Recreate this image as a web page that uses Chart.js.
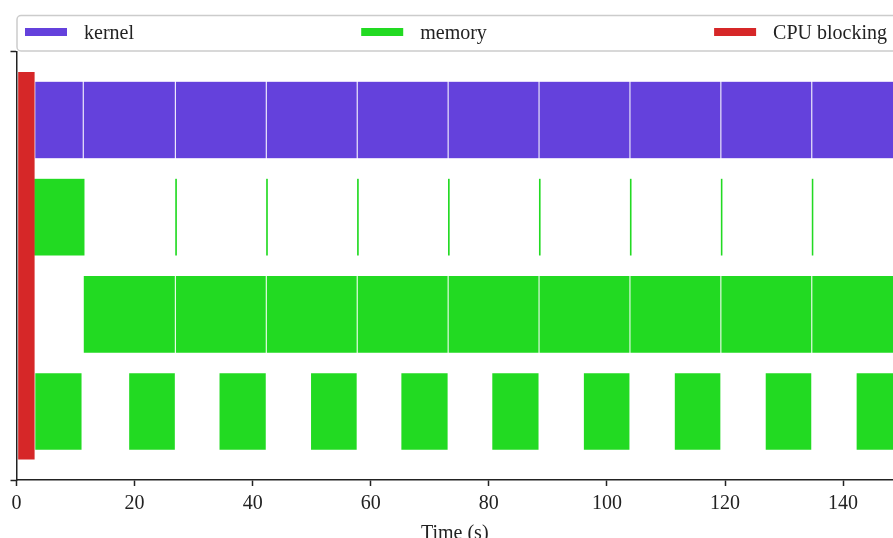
<!DOCTYPE html>
<html>
<head>
<meta charset="utf-8">
<script src="https://cdn.jsdelivr.net/npm/chart.js@4/dist/chart.umd.min.js"></script>
<style>
  html, body { margin: 0; padding: 0; background: #fff; }
  #wrap { width: 893px; height: 538px; }
</style>
</head>
<body>
<div id="wrap"><canvas id="timeline"></canvas></div>
<script>
// rows counted from the bottom (0) to the top (3)
const kernelRow = 3;
const memoryShortRow = 2;
const memoryLongRow = 1;
const memoryPeriodicRow = 0;
const cpuRow = 1.5; // spans all four rows

// [start, end] in seconds
const kernelSpans = [[3.1, 11.3], [11.3, 26.9], [26.9, 42.3], [42.3, 57.7], [57.7, 73.1],
  [73.1, 88.5], [88.5, 103.9], [103.9, 119.3], [119.3, 134.7], [134.7, 150.1]];
const memoryShortSpans = [[0.4, 11.6], [26.8, 27.25], [42.2, 42.65], [57.6, 58.05], [73.0, 73.45],
  [88.4, 88.85], [103.8, 104.25], [119.2, 119.65], [134.6, 135.05]];
const memoryLongSpans = [[11.3, 26.9], [26.9, 42.3], [42.3, 57.7], [57.7, 73.1], [73.1, 88.5],
  [88.5, 103.9], [103.9, 119.3], [119.3, 134.7], [134.7, 150.1]];
const memoryPeriodicSpans = [[3.1, 11.1], [19.0, 26.9], [34.3, 42.3], [49.8, 57.7], [65.1, 73.1],
  [80.5, 88.5], [96.0, 103.9], [111.4, 119.3], [126.8, 134.7], [142.2, 150.1]];
const cpuBlockingSpans = [[0.2, 3.15]];

const xMin = 0;
const xMax = 148.45;
const xStep = 20;
const yMin = -0.705;
const yMax = 3.705;

const FONT = '"Liberation Serif", "Times New Roman", serif';
const INK = '#222222';

const toPoints = (spans, row) => spans.map(s => ({ x: s, y: row }));

// bar sizes in row units; the ruler spacing is 0.5 (rows 0,1,1.5,2,3)
const ruler = 0.5;
const rowHeight = 0.8;
const cpuHeight = 4.0;

const expandLegend = {
  id: 'expandLegend',
  afterDraw(chart) {
    const { ctx, chartArea } = chart;
    const top = 15.5, bottom = chartArea.top - 0.5;
    const left = chartArea.left + 0.5, right = chart.width + 12;
    ctx.save();
    ctx.beginPath();
    ctx.roundRect(left, top, right - left, bottom - top, 4);
    ctx.fillStyle = '#ffffff';
    ctx.fill();
    ctx.strokeStyle = '#cccccc';
    ctx.lineWidth = 1.5;
    ctx.stroke();

    ctx.font = '20px ' + FONT;
    ctx.textBaseline = 'middle';
    const sw = 42, sh = 8, gapText = 17;
    const items = chart.data.datasets;
    const widths = items.map(ds => sw + gapText + ctx.measureText(ds.label).width);
    const innerLeft = 25, innerRight = chart.width - 6;
    const gap = (innerRight - innerLeft - widths.reduce((a, b) => a + b, 0)) / (items.length - 1);
    const cy = 32;
    let x = innerLeft;
    items.forEach((ds, i) => {
      ctx.fillStyle = ds.backgroundColor;
      ctx.fillRect(x, cy - sh / 2, sw, sh);
      ctx.fillStyle = INK;
      ctx.fillText(ds.label, x + sw + gapText, cy + 2);
      x += widths[i] + gap;
    });
    ctx.restore();
  }
};

new Chart(document.getElementById('timeline'), {
  type: 'bar',
  data: {
    datasets: [
      {
        label: 'kernel',
        data: toPoints(kernelSpans, kernelRow),
        backgroundColor: '#6441dc',
        categoryPercentage: rowHeight / ruler,
        barPercentage: 1
      },
      {
        label: 'memory',
        data: [
          ...toPoints(memoryShortSpans, memoryShortRow),
          ...toPoints(memoryLongSpans, memoryLongRow),
          ...toPoints(memoryPeriodicSpans, memoryPeriodicRow)
        ],
        backgroundColor: '#22da22',
        categoryPercentage: rowHeight / ruler,
        barPercentage: 1
      },
      {
        label: 'CPU blocking',
        data: toPoints(cpuBlockingSpans, cpuRow),
        backgroundColor: '#d62728',
        categoryPercentage: cpuHeight / ruler,
        barPercentage: 1,
        order: -1
      }
    ]
  },
  options: {
    animation: false,
    responsive: true,
    maintainAspectRatio: false,
    indexAxis: 'y',
    datasets: {
      bar: {
        grouped: false,
        borderWidth: 0.5,
        borderColor: 'rgba(255,255,255,0.35)',
        borderSkipped: false
      }
    },
    layout: { padding: { left: 10.5, right: 0, top: 51.5, bottom: -8 } },
    plugins: { legend: { display: false }, tooltip: { enabled: false } },
    scales: {
      x: {
        type: 'linear',
        min: xMin,
        max: xMax,
        ticks: {
          stepSize: xStep,
          includeBounds: false,
          color: INK,
          font: { family: FONT, size: 20 },
          padding: 6,
          maxRotation: 0
        },
        grid: { drawOnChartArea: false, tickLength: 6, tickWidth: 1.5, tickColor: INK },
        border: { color: INK, width: 1.5 },
        title: {
          display: true,
          text: 'Time (s)',
          color: INK,
          font: { family: FONT, size: 20 },
          padding: { top: 0, bottom: 0 }
        }
      },
      y: {
        type: 'linear',
        min: yMin,
        max: yMax,
        offset: false,
        afterBuildTicks: (s) => { s.ticks = [{ value: yMin }, { value: yMax }]; },
        ticks: { display: false },
        grid: { offset: false, drawOnChartArea: false, tickLength: 6, tickWidth: 1.5, tickColor: INK },
        border: { color: INK, width: 1.5 }
      }
    }
  },
  plugins: [expandLegend]
});
</script>
</body>
</html>
